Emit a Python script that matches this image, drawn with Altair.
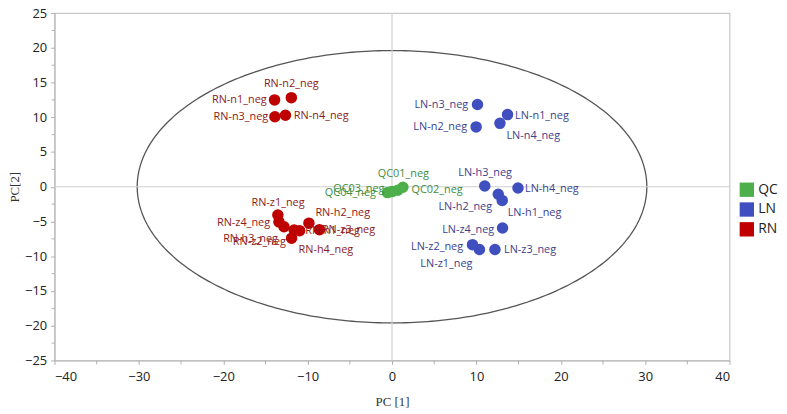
import altair as alt
import pandas as pd
import numpy as np

# ---- data ----
groups = ["QC", "LN", "RN"]

qc_names = ["QC01_neg", "QC02_neg", "QC03_neg", "QC04_neg"]
qc_x = [0.70, 1.29, 0.00, -0.53]
qc_y = [-0.49, -0.07, -0.70, -0.84]
qc_lx = [1.35, 5.34, -3.93, -4.93]
qc_ly = [1.87, -0.46, -0.32, -0.84]

ln_names = ["LN-n1_neg", "LN-n2_neg", "LN-n3_neg", "LN-n4_neg",
            "LN-h1_neg", "LN-h2_neg", "LN-h3_neg", "LN-h4_neg",
            "LN-z1_neg", "LN-z2_neg", "LN-z3_neg", "LN-z4_neg"]
ln_x = [13.69, 9.97, 10.13, 12.79, 13.06, 12.59, 10.99, 14.93, 10.36, 9.54, 12.20, 13.10]
ln_y = [10.39, 8.61, 11.84, 9.13, -1.97, -1.08, 0.10, -0.18, -9.03, -8.33, -9.03, -5.94]
ln_lx = [17.77, 5.71, 5.84, 16.74, 16.89, 8.68, 11.03, 18.94, 6.45, 5.34, 16.36, 9.03]
ln_ly = [10.25, 8.53, 11.70, 7.35, -3.75, -2.95, 2.01, -0.32, -11.10, -8.67, -9.13, -6.18]

rn_names = ["RN-n1_neg", "RN-n2_neg", "RN-n3_neg", "RN-n4_neg",
            "RN-h1_neg", "RN-h2_neg", "RN-h3_neg", "RN-h4_neg",
            "RN-z1_neg", "RN-z2_neg", "RN-z3_neg", "RN-z4_neg"]
rn_x = [-13.92, -11.93, -13.88, -12.63, -8.60, -9.85, -11.60, -11.90, -13.53, -12.80, -10.95, -13.40]
rn_y = [12.50, 12.82, 10.07, 10.29, -6.18, -5.24, -6.22, -7.40, -4.07, -5.76, -6.32, -5.06]
rn_lx = [-18.10, -11.94, -17.91, -8.39, -7.04, -5.84, -16.77, -7.84, -13.51, -15.72, -5.16, -17.60]
rn_ly = [12.50, 14.75, 10.07, 10.21, -6.32, -3.75, -7.58, -9.13, -2.35, -8.00, -6.25, -5.15]

# Hotelling T2 ellipse semi-axes
ell_a = 30.2
ell_b = 19.6

# axis tick values
x_ticks = list(range(-40, 41, 10))
x_minor = list(range(-35, 40, 10))
y_ticks = list(range(-25, 26, 5))
y_minor = [v + 2.5 for v in range(-25, 25, 5)]

point_colors = ["#4CAF4C", "#3F4FBF", "#BE0000"]
label_colors = ["#3E8E3E", "#3B3F8E", "#8E1A1A"]

W, H = 682, 351

# ---- tables ----
rows = []
for g, names, xs_, ys_, lxs, lys in [
    ("QC", qc_names, qc_x, qc_y, qc_lx, qc_ly),
    ("LN", ln_names, ln_x, ln_y, ln_lx, ln_ly),
    ("RN", rn_names, rn_x, rn_y, rn_lx, rn_ly),
]:
    for n, x, y, lx, ly in zip(names, xs_, ys_, lxs, lys):
        rows.append({"group": g, "name": n, "x": x, "y": y, "lx": lx, "ly": ly})
df = pd.DataFrame(rows)

t = np.linspace(0, 2 * np.pi, 361)
ell = pd.DataFrame({"ex": ell_a * np.cos(t), "ey": ell_b * np.sin(t), "ord": np.arange(len(t))})

xscale = alt.Scale(domain=[-40, 40], nice=False, zero=False)
yscale = alt.Scale(domain=[-25, 25], nice=False, zero=False)

xaxis = alt.Axis(values=x_ticks, title="PC [1]", labelPadding=6, titlePadding=13, labelOverlap=False)
yaxis = alt.Axis(values=y_ticks, title="PC[2]", labelPadding=4, titlePadding=3, labelOverlap=False)


def X(field):
    return alt.X(field, type="quantitative", scale=xscale, axis=xaxis)


def Y(field):
    return alt.Y(field, type="quantitative", scale=yscale, axis=yaxis)


ellipse = alt.Chart(ell).mark_line(color="#555555", strokeWidth=1.3).encode(
    x=X("ex"), y=Y("ey"), order="ord:Q",
)

zero = pd.DataFrame({"v": [0]})
vline = alt.Chart(zero).mark_rule(color="#cfcfcf", strokeWidth=1.2).encode(x=X("v"))
hline = alt.Chart(zero).mark_rule(color="#cfcfcf", strokeWidth=1.2).encode(y=Y("v"))

# minor ticks
yminor = alt.Chart(pd.DataFrame({"v": y_minor})).mark_rule(color="#b0b0b0").encode(
    y=Y("v"), x=alt.value(-3), x2=alt.value(0))
xminor = alt.Chart(pd.DataFrame({"v": x_minor})).mark_rule(color="#b0b0b0").encode(
    x=X("v"), y=alt.value(H), y2=alt.value(H + 4))

points = alt.Chart(df).mark_circle(size=135, opacity=1).encode(
    x=X("x"), y=Y("y"),
    color=alt.Color("group:N", scale=alt.Scale(domain=groups, range=point_colors),
                    legend=alt.Legend(title=None, orient="none", legendX=692, legendY=171,
                                      symbolType="square", symbolSize=210,
                                      labelFont="Open Sans", labelFontSize=14, labelOffset=4,
                                      labelColor="#222222", rowPadding=5,
                                      symbolStrokeWidth=0)),
)

labels = alt.Chart(df).mark_text(font="Open Sans", fontSize=11, align="center", baseline="middle").encode(
    x=X("lx"), y=Y("ly"),
    text="name:N",
    color=alt.Color("group:N", scale=alt.Scale(domain=groups, range=label_colors), legend=None),
)

chart = alt.layer(ellipse, vline, hline, yminor, xminor, points, labels).resolve_scale(color="independent").properties(
    width=W, height=H,
    autosize=alt.AutoSizeParams(type="none"),
    padding={"left": 47, "top": 3, "right": 50, "bottom": 52},
).configure_view(stroke="#c8c8c8", strokeWidth=1.2).configure_axis(
    grid=False, domainColor="#b0b0b0", tickColor="#b0b0b0", tickSize=4,
    labelFont="Open Sans", labelFontSize=13, labelColor="#222222", labelOverlap=False,
    titleFont="Liberation Serif", titleFontSize=13, titleFontWeight="normal",
    titleColor="#333333",
)

chart.save("out.html", embed_options={"renderer": "svg", "actions": False})
